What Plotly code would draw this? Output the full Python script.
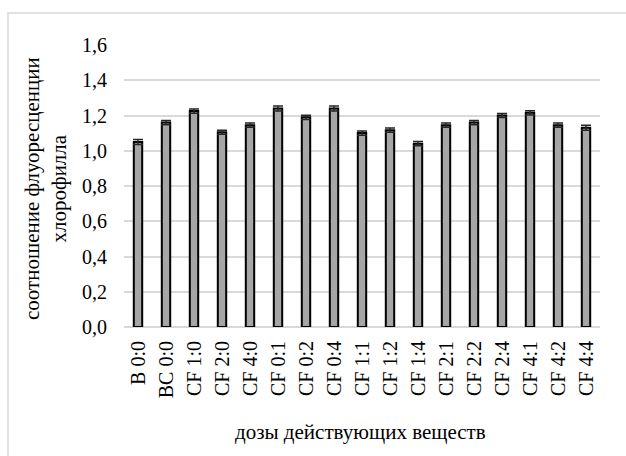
import plotly.graph_objects as go

categories = ["B 0:0", "BC 0:0", "CF 1:0", "CF 2:0", "CF 4:0", "CF 0:1", "CF 0:2", "CF 0:4",
              "CF 1:1", "CF 1:2", "CF 1:4", "CF 2:1", "CF 2:2", "CF 2:4", "CF 4:1", "CF 4:2", "CF 4:4"]
values = [1.05, 1.16, 1.225, 1.105, 1.145, 1.24, 1.19, 1.24,
          1.10, 1.117, 1.04, 1.145, 1.16, 1.20, 1.215, 1.145, 1.13]
errors = [0.014, 0.012, 0.012, 0.012, 0.012, 0.014, 0.012, 0.014,
          0.012, 0.012, 0.012, 0.012, 0.012, 0.012, 0.012, 0.012, 0.014]
y_ticks = [0.0, 0.2, 0.4, 0.6, 0.8, 1.0, 1.2, 1.4, 1.6]

W, H = 626, 456
L, R, T, B = 124, 26, 45, 129

fig = go.Figure()
fig.add_trace(go.Bar(
    x=categories, y=values,
    marker=dict(color="#a6a6a6", line=dict(color="#000000", width=2)),
    width=0.3,
    error_y=dict(type="data", array=errors, visible=True, color="#262626", thickness=1.5, width=5),
))

font_family = "Liberation Serif"
pw = W - L - R
ph = H - T - B
FS = 20
FT = 21

fig.update_layout(
    width=W, height=H,
    margin=dict(l=L, r=R, t=T, b=B),
    paper_bgcolor="white", plot_bgcolor="white",
    separators=", ",
    showlegend=False,
    font=dict(family=font_family, size=FS, color="#000000"),
    xaxis=dict(tickangle=-90, showgrid=False, showline=False, ticks="",
               ticklabelstandoff=9,
               tickfont=dict(size=FS, family=font_family)),
    yaxis=dict(range=[0, 1.6], tickvals=y_ticks, tickformat=".1f",
               showgrid=True, gridcolor="#d9d9d9", gridwidth=1.5,
               zeroline=True, zerolinecolor="#d9d9d9", zerolinewidth=1.5,
               showline=False, ticks="", ticklabelstandoff=16,
               tickfont=dict(size=FS, family=font_family)),
    annotations=[
        dict(text="соотношение флуоресценции<br>хлорофилла", textangle=-90,
             xref="paper", yref="paper", x=(45 - L) / pw, y=0.5 + (186 - 189) / ph,
             xanchor="center", yanchor="middle", showarrow=False,
             font=dict(size=FT, family=font_family)),
        dict(text="дозы действующих веществ",
             xref="paper", yref="paper", x=(360 - L) / pw, y=1 - (432 - T) / ph,
             xanchor="center", yanchor="middle", showarrow=False,
             font=dict(size=FT, family=font_family)),
    ],
    shapes=[
        dict(type="rect", xref="paper", yref="paper",
             x0=(8 - L) / pw, x1=(640 - L) / pw,
             y0=1 - (470 - T) / ph, y1=1 - (13 - T) / ph,
             line=dict(color="#d9d9d9", width=1.5), layer="below"),
    ],
)

fig.write_html("out.html", config={"displayModeBar": False},
               post_script="document.body.style.margin='0px';")
